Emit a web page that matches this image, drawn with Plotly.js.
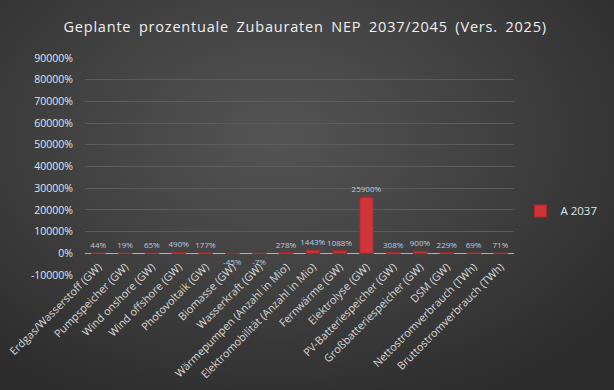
<!DOCTYPE html>
<html>
<head>
<meta charset="utf-8">
<script src="https://cdn.plot.ly/plotly-3.0.1.min.js"></script>
<style>
  html, body { margin: 0; padding: 0; }
  #chart {
    width: 614px; height: 390px;
    background: radial-gradient(ellipse 70% 75% at 45% 35%, #545454 0%, #434343 45%, #2c2c2c 100%);
  }
  .gtitle { letter-spacing: 0.8px; word-spacing: 3px; }
</style>
</head>
<body>
<div id="chart"></div>
<script>
const categories = [
  "Erdgas/Wasserstoff (GW)", "Pumpspeicher (GW)", "Wind onshore (GW)", "Wind offshore (GW)",
  "Photovoltaik (GW)", "Biomasse (GW)", "Wasserkraft (GW)", "Wärmepumpen (Anzahl in Mio)",
  "Elektromobilität (Anzahl in Mio)", "Fernwärme (GW)", "Elektrolyse (GW)", "PV-Batteriespeicher (GW)",
  "Großbatteriespeicher (GW)", "DSM (GW)", "Nettostromverbrauch (TWh)", "Bruttostromverbrauch (TWh)"
];
const a2037 = [44, 19, 65, 490, 177, -45, -7, 278, 1443, 1088, 25900, 308, 900, 229, 69, 71];
const seriesName = "A 2037";
const yTicks = [-10000, 0, 10000, 20000, 30000, 40000, 50000, 60000, 70000, 80000, 90000];
const yTickText = yTicks.map(v => v + "%");
const labels = a2037.map(v => v + "%");

const trace = {
  type: "bar",
  x: categories,
  y: a2037,
  name: seriesName,
  text: labels,
  textposition: "outside",
  constraintext: "none",
  cliponaxis: false,
  textfont: { family: "Open Sans, sans-serif", size: 8, color: "#b8cce4" },
  marker: { color: "#cf3538", line: { color: "#b02427", width: 1.2 } },
  width: 0.5,
  showlegend: true
};

const layout = {
  width: 614, height: 390,
  paper_bgcolor: "rgba(0,0,0,0)",
  plot_bgcolor: "rgba(0,0,0,0)",
  margin: { l: 85, r: 78, t: 58, b: 115 },
  title: {
    text: "Geplante prozentuale Zubauraten NEP 2037/2045 (Vers. 2025)",
    font: { family: "Open Sans, sans-serif", size: 14.5, color: "#f0f0f0" },
    x: 0.497, xanchor: "center", y: 0.93, yanchor: "middle"
  },
  xaxis: {
    type: "category",
    tickangle: -45,
    anchor: "free", position: 0.08,
    tickfont: { family: "Open Sans, sans-serif", size: 10.8, color: "#d9d9d9" },
    showgrid: false, showline: false, ticks: "", zeroline: false
  },
  yaxis: {
    range: [-10000, 90000],
    tickvals: yTicks, ticktext: yTickText,
    tickfont: { family: "Open Sans, sans-serif", size: 10.5, color: "#dce6f2" },
    ticklabelstandoff: 11,
    gridcolor: "#5c5c5c", gridwidth: 1,
    zeroline: true, zerolinecolor: "#b0b0b0", zerolinewidth: 1.5,
    ticks: "", ticklen: 0, showline: false
  },
  showlegend: true,
  legend: {
    x: 1.015, xanchor: "left", y: 0.295, yanchor: "middle",
    font: { family: "Open Sans, sans-serif", size: 11.5, color: "#dce6f2" },
    bgcolor: "rgba(0,0,0,0)"
  },
  bargap: 0.5
};

Plotly.newPlot("chart", [trace], layout, { displayModeBar: false, staticPlot: true });
</script>
</body>
</html>
